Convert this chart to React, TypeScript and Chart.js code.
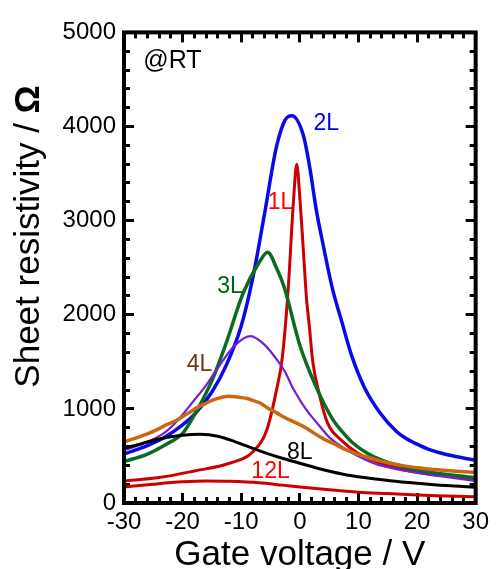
import React, { useEffect, useRef } from "react";
import { Chart, registerables } from "chart.js";

Chart.register(...registerables);

// ---- axes ----
const X_MIN = -30;
const X_MAX = 30;
const Y_MIN = 0;
const Y_MAX = 5000;
const X_TITLE = "Gate voltage / V";
const Y_TITLE_MAIN = "Sheet resistivity / ";
const Y_TITLE_UNIT = "Ω";

// ---- tick values ----
const xMajorTicks = [-30, -20, -10, 0, 10, 20, 30];
const yMajorTicks = [0, 1000, 2000, 3000, 4000, 5000];
const xMinorTicks = [-28, -26, -24, -22, -18, -16, -14, -12, -8, -6, -4, -2, 2, 4, 6, 8, 12, 14, 16, 18, 22, 24, 26, 28];
const yMinorTicks = [200, 400, 600, 800, 1200, 1400, 1600, 1800, 2200, 2400, 2600, 2800, 3200, 3400, 3600, 3800, 4200, 4400, 4600, 4800];

// ---- series (gate voltage V, sheet resistivity Ω) ----
const v1L = [-30, -24, -18, -12, -8, -5.6, -4, -3, -2, -1.07, -0.53, 0.03, 0.58, 1.12, 1.67, 2.2, 3.3, 4.7, 7.2, 10, 15.4, 20.8, 30];
const r1L = [235, 270, 340, 422, 545, 782, 1194, 1540, 2260, 3220, 3598, 3220, 2706, 2191, 1849, 1505, 1163, 854, 660, 525, 391, 319, 255];

const v2L = [-30, -26, -23, -20, -18, -15, -12.5, -10, -8, -6, -4, -2.5, -1.35, 0.6, 1.7, 2.8, 4.1, 5.5, 7.2, 8.8, 11, 13.7, 16.5, 18, 20, 22, 25, 30];
const r2L = [520, 610, 700, 830, 940, 1180, 1470, 1880, 2400, 3080, 3780, 4070, 4115, 3906, 3563, 3117, 2706, 2294, 1917, 1574, 1231, 957, 760, 690, 625, 570, 515, 455];

const v3L = [-30, -26, -23, -20, -18.5, -15, -12.5, -9.7, -7, -5.5, -4, -2.7, 0, 2.8, 5.5, 7.2, 9, 11.6, 15.4, 20.8, 30];
const r3L = [440, 520, 617, 740, 880, 1300, 1711, 2226, 2550, 2665, 2500, 2300, 1677, 1231, 900, 760, 640, 525, 422, 340, 268];

const v6L = [-30, -26, -23, -20.7, -18, -16, -13.6, -11, -8.4, -6, -4, -2.6, -1, 1, 2.8, 5, 7.2, 12.6, 18.2, 24, 30];
const r6L = [560, 650, 751, 888, 1094, 1250, 1471, 1680, 1773, 1680, 1530, 1403, 1200, 1000, 860, 700, 597, 422, 340, 285, 235];

const v4L = [-30, -28, -26, -24, -23, -21, -20, -18.5, -17.7, -16, -15, -13.5, -12.2, -11, -10, -9, -8, -6.7, -5.5, -4, -2.5, -0.7, 1, 2, 3.5, 4.4, 6, 7, 8.5, 10, 12, 13.5, 15.4, 18, 20.8, 23, 25, 27.5, 30];
const r4L = [650, 690, 735, 790, 825, 880, 920, 975, 1008, 1060, 1090, 1120, 1135, 1130, 1120, 1110, 1090, 1060, 1010, 960, 905, 854, 800, 760, 700, 669, 625, 590, 550, 514, 478, 450, 422, 392, 370, 355, 345, 335, 325];

const v8L = [-30, -27, -24, -20, -17, -14, -11, -9.5, -6, -3, -0.7, 3, 7.2, 11, 15.4, 20, 25, 30];
const r8L = [580, 630, 680, 720, 730, 710, 650, 615, 535, 475, 435, 370, 309, 270, 237, 210, 185, 168];

const v12L = [-30, -25, -20, -16, -12, -7, -3, 0, 5, 10, 15, 20, 25, 30];
const r12L = [170, 200, 225, 235, 230, 215, 190, 170, 140, 115, 100, 85, 75, 65];

// ---- in-plot labels (text, anchor in data units) ----
const noteTexts = ["2L", "1L", "3L", "4L", "8L", "12L", "@RT"];
const noteV = [4.5, -3.3, -11.9, -17.1, 0.0, -5.0, -26.7];
const noteR = [4028, 3189, 2294, 1471, 540, 334, 4690];
const noteColors = ["#0000ff", "#ff0000", "#006414", "#6b3a10", "#000000", "#ff0000", "#000000"];
const noteAlign: CanvasTextAlign[] = ["center", "center", "center", "center", "center", "center", "left"];

const FONT = "'Liberation Sans', Arial, Helvetica, sans-serif";

const pts = (xs: number[], ys: number[]) => xs.map((x, i) => ({ x, y: ys[i] }));

// An axis that only draws inward tick marks (Chart.js grid ticks, negative length).
const markAxis = (
  horizontal: boolean,
  position: string,
  values: number[],
  len: number,
  weight: number
) => ({
  type: "linear" as const,
  axis: horizontal ? ("x" as const) : ("y" as const),
  position,
  weight,
  min: horizontal ? X_MIN : Y_MIN,
  max: horizontal ? X_MAX : Y_MAX,
  grid: {
    display: true,
    drawOnChartArea: false,
    drawTicks: true,
    tickLength: -len,
    tickWidth: 3,
    tickColor: "#000000",
    lineWidth: 3,
    color: "#000000",
  },
  border: { display: false },
  ticks: { display: false, autoSkip: false },
  afterBuildTicks: (s: any) => {
    s.ticks = values.map((value) => ({ value }));
  },
  afterFit: (s: any) => {
    if (horizontal) s.height = 0;
    else s.width = 0;
  },
});

const chartPlugin = {
  id: "decor",
  afterDatasetsDraw(chart: any) {
    const { ctx, scales } = chart;
    const xs = scales.x;
    const ys = scales.y;
    ctx.save();
    for (let i = 0; i < noteTexts.length; i++) {
      ctx.font = `${i === 6 ? 25 : 23}px ${FONT}`;
      ctx.fillStyle = noteColors[i];
      ctx.textAlign = noteAlign[i];
      ctx.textBaseline = "middle";
      ctx.fillText(noteTexts[i], xs.getPixelForValue(noteV[i]), ys.getPixelForValue(noteR[i]));
    }
    ctx.restore();
  },
  afterDraw(chart: any) {
    const { ctx, chartArea } = chart;
    const { left, right, top, bottom } = chartArea;
    ctx.save();
    ctx.strokeStyle = "#000000";
    ctx.lineWidth = 4;
    ctx.strokeRect(left, top, right - left, bottom - top);

    ctx.fillStyle = "#000000";
    ctx.font = `35px ${FONT}`;
    ctx.textAlign = "center";
    ctx.textBaseline = "alphabetic";
    ctx.fillText(X_TITLE, (left + right) / 2, 565);

    ctx.translate(39, 236.5);
    ctx.rotate(-Math.PI / 2);
    ctx.font = `35px ${FONT}`;
    const w1 = ctx.measureText(Y_TITLE_MAIN).width;
    ctx.font = `bold 35px ${FONT}`;
    const w2 = ctx.measureText(Y_TITLE_UNIT).width;
    const start = -(w1 + w2) / 2;
    ctx.textAlign = "left";
    ctx.font = `35px ${FONT}`;
    ctx.fillText(Y_TITLE_MAIN, start, 0);
    ctx.font = `bold 35px ${FONT}`;
    ctx.fillText(Y_TITLE_UNIT, start + w1, 0);
    ctx.restore();
  },
};

export default function App() {
  const ref = useRef<HTMLCanvasElement | null>(null);

  useEffect(() => {
    document.body.style.margin = "0";
    const canvas = ref.current;
    if (!canvas) return;
    Chart.defaults.font.family = FONT;
    const ds = (label: string, xs: number[], ys: number[], color: string, width: number) => ({
      label,
      data: pts(xs, ys),
      xAxisID: "x",
      yAxisID: "y",
      borderColor: color,
      backgroundColor: color,
      borderWidth: width,
      pointRadius: 0,
      fill: false,
      cubicInterpolationMode: "monotone" as const,
    });
    const chart = new Chart(canvas, {
      type: "line",
      data: {
        datasets: [
          ds("12L", v12L, r12L, "#cc0000", 3),
          ds("8L", v8L, r8L, "#000000", 3),
          ds("4L", v4L, r4L, "#cc6611", 3.5),
          ds("6L", v6L, r6L, "#7020d8", 2.2),
          ds("3L", v3L, r3L, "#0b6b1f", 3.5),
          ds("1L", v1L, r1L, "#cc0000", 3),
          ds("2L", v2L, r2L, "#0a0ae6", 3.5),
        ],
      },
      options: {
        animation: false,
        responsive: false,
        devicePixelRatio: 1,
        layout: { padding: { top: 17, right: 15, left: 0, bottom: 0 } },
        plugins: { legend: { display: false }, tooltip: { enabled: false } },
        scales: {
          x: {
            type: "linear",
            position: "bottom",
            weight: 1,
            min: X_MIN,
            max: X_MAX,
            grid: {
              display: true,
              drawOnChartArea: false,
              drawTicks: true,
              tickLength: -10,
              tickWidth: 3,
              tickColor: "#000000",
              lineWidth: 3,
              color: "#000000",
            },
            border: { display: false },
            ticks: {
              padding: 15,
              color: "#000",
              font: { size: 24, family: FONT },
              maxRotation: 0,
              autoSkip: false,
              callback: (v: any) => String(v),
            },
            afterBuildTicks: (s: any) => {
              s.ticks = xMajorTicks.map((value) => ({ value }));
            },
            afterFit: (s: any) => {
              s.height = 66;
            },
          },
          y: {
            type: "linear",
            position: "left",
            weight: 1,
            min: Y_MIN,
            max: Y_MAX,
            grid: {
              display: true,
              drawOnChartArea: false,
              drawTicks: true,
              tickLength: -10,
              tickWidth: 3,
              tickColor: "#000000",
              lineWidth: 3,
              color: "#000000",
            },
            border: { display: false },
            ticks: {
              padding: 18,
              color: "#000",
              font: { size: 24, family: FONT },
              autoSkip: false,
              callback: (v: any) => String(v),
            },
            afterBuildTicks: (s: any) => {
              s.ticks = yMajorTicks.map((value) => ({ value }));
            },
            afterFit: (s: any) => {
              s.width = 124;
            },
          },
          xMinor: markAxis(true, "bottom", xMinorTicks, 6, 0),
          xTop: markAxis(true, "top", xMajorTicks, 10, 1),
          xTopMinor: markAxis(true, "top", xMinorTicks, 6, 0),
          yMinor: markAxis(false, "left", yMinorTicks, 6, 0),
          yRight: markAxis(false, "right", yMajorTicks, 10, 1),
          yRightMinor: markAxis(false, "right", yMinorTicks, 6, 0),
        } as any,
      },
      plugins: [chartPlugin],
    });
    return () => chart.destroy();
  }, []);

  return <canvas ref={ref} width={504} height={569} style={{ display: "block" }} />;
}
